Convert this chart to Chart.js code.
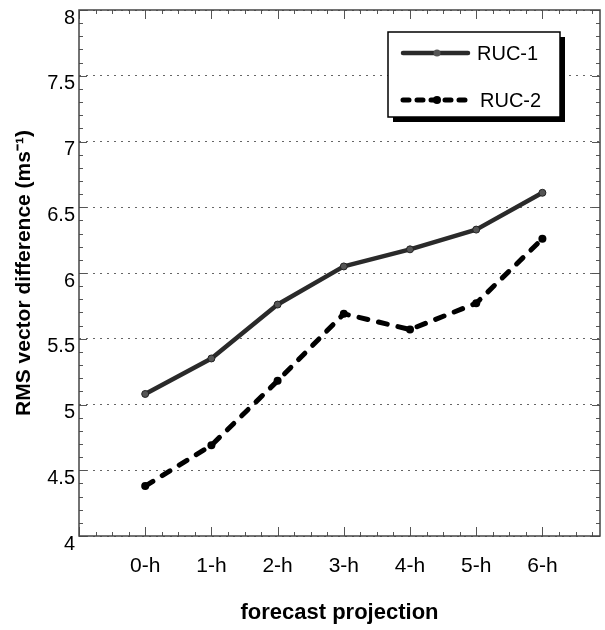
<!DOCTYPE html>
<html>
<head>
<meta charset="utf-8">
<script src="https://cdn.jsdelivr.net/npm/chart.js@4.4.1/dist/chart.umd.min.js"></script>
<style>
html,body{margin:0;padding:0;background:#fff;}
#wrap{width:605px;height:630px;}
</style>
</head>
<body>
<div id="wrap"><canvas id="c" width="605" height="630"></canvas></div>
<script>
const categories = ['0-h','1-h','2-h','3-h','4-h','5-h','6-h'];
const ruc1 = [5.08, 5.35, 5.76, 6.05, 6.18, 6.33, 6.61];
const ruc2 = [4.38, 4.69, 5.18, 5.69, 5.57, 5.77, 6.26];
const seriesNames = ['RUC-1', 'RUC-2'];
const yTickValues = [4, 4.5, 5, 5.5, 6, 6.5, 7, 7.5, 8];
const xTitle = 'forecast projection';
const yTitle = 'RMS vector difference (ms\u207B\u00B9)';

const FONT = '"Liberation Sans", Arial, Helvetica, sans-serif';

const framePlugin = {
  id: 'frameTicks',
  beforeDatasetsDraw(chart) {
    const {ctx, chartArea: a, scales: {x, y}} = chart;
    ctx.save();
    ctx.strokeStyle = '#555';
    ctx.lineWidth = 1;
    ctx.beginPath();
    for (let i = 0; i <= 40; i++) {
      const v = 4 + i * 0.1;
      const py = Math.round(y.getPixelForValue(v)) + 0.5;
      const len = (i % 5 === 0) ? 8 : 4;
      ctx.moveTo(a.left, py); ctx.lineTo(a.left + len, py);
      ctx.moveTo(a.right, py); ctx.lineTo(a.right - len, py);
    }
    for (let k = 0; ; k++) {
      const v = -1 + k * 0.25;
      if (v > x.max + 1e-6) break;
      const px = Math.round(x.getPixelForValue(v)) + 0.5;
      const major = (k % 4 === 0);
      const len = major ? 9 : 4;
      ctx.moveTo(px, a.bottom); ctx.lineTo(px, a.bottom - len);
      ctx.moveTo(px, a.top); ctx.lineTo(px, a.top + len);
    }
    ctx.stroke();
    ctx.lineWidth = 1.5;
    ctx.strokeStyle = '#444';
    ctx.strokeRect(a.left, a.top, a.right - a.left, a.bottom - a.top);
    ctx.restore();
  }
};

const legendPlugin = {
  id: 'boxLegend',
  afterDraw(chart) {
    const ctx = chart.ctx;
    const bx = 388, by = 32, bw = 172, bh = 85;
    ctx.save();
    ctx.fillStyle = '#000';
    ctx.fillRect(bx + 5, by + 5, bw, bh);
    ctx.fillStyle = '#fff';
    ctx.fillRect(bx, by, bw, bh);
    ctx.strokeStyle = '#000';
    ctx.lineWidth = 1.5;
    ctx.strokeRect(bx, by, bw, bh);
    chart.data.datasets.forEach((ds, i) => {
      const ly = by + 21 + i * 47;
      ctx.setLineDash(i === 1 ? [6, 8] : []);
      ctx.lineCap = ds.borderCapStyle || 'butt';
      ctx.strokeStyle = ds.borderColor;
      ctx.lineWidth = ds.borderWidth;
      ctx.beginPath(); ctx.moveTo(403, ly); ctx.lineTo(468, ly); ctx.stroke();
      ctx.setLineDash([]);
      ctx.fillStyle = ds.pointBackgroundColor;
      ctx.beginPath(); ctx.arc(437, ly, ds.pointRadius, 0, Math.PI * 2); ctx.fill();
      ctx.fillStyle = '#000';
      ctx.font = '20px ' + FONT;
      ctx.textBaseline = 'middle';
      ctx.textAlign = 'left';
      ctx.fillText(ds.label, 477 + i * 3, ly + 1);
    });
    ctx.restore();
  }
};

new Chart(document.getElementById('c'), {
  type: 'line',
  data: {
    datasets: [
      {
        label: seriesNames[0],
        data: ruc1.map((v, i) => ({x: i, y: v})),
        borderColor: '#2a2a2a',
        borderWidth: 4.5,
        pointRadius: 3.5,
        pointBackgroundColor: '#555',
        pointBorderColor: '#222',
        pointBorderWidth: 1,
        borderCapStyle: 'round',
        borderJoinStyle: 'round',
        tension: 0
      },
      {
        label: seriesNames[1],
        data: ruc2.map((v, i) => ({x: i, y: v})),
        borderColor: '#000',
        borderWidth: 5,
        borderDash: [9, 11],
        borderCapStyle: 'round',
        pointRadius: 4,
        pointBackgroundColor: '#000',
        pointBorderColor: '#000',
        pointBorderWidth: 0,
        tension: 0
      }
    ]
  },
  options: {
    responsive: false,
    devicePixelRatio: 1,
    animation: false,
    layout: {padding: {top: 10, right: 4, bottom: 0, left: 0}},
    plugins: {legend: {display: false}, tooltip: {enabled: false}},
    scales: {
      x: {
        type: 'linear',
        min: -1,
        max: 6.87,
        afterBuildTicks(s) {
          s.ticks = categories.map((c, i) => ({value: i}));
        },
        afterFit(s) { s.height = 94; s.paddingLeft = 0; s.paddingRight = 0; },
        grid: {display: false, drawTicks: false},
        border: {display: false},
        ticks: {
          autoSkip: false,
          maxRotation: 0,
          padding: 18,
          color: '#000',
          font: {family: FONT, size: 21},
          callback: (v) => categories[v] !== undefined ? categories[v] : ''
        },
        title: {
          display: true,
          text: xTitle,
          color: '#000',
          font: {family: FONT, size: 22, weight: 'bold'},
          padding: 4
        }
      },
      y: {
        min: 4,
        max: 8,
        afterBuildTicks(s) {
          s.ticks = yTickValues.map(v => ({value: v}));
        },
        afterFit(s) { s.width = 79; s.paddingTop = 0; s.paddingBottom = 0; },
        grid: {color: '#666', lineWidth: 1, drawTicks: false},
        border: {display: false, dash: [2, 5]},
        ticks: {
          padding: 4,
          labelOffset: 8,
          color: '#000',
          font: {family: FONT, size: 20},
          callback: (v) => String(v)
        },
        title: {
          display: true,
          text: yTitle,
          color: '#000',
          font: {family: FONT, size: 21, weight: 'bold'},
          padding: 12
        }
      }
    }
  },
  plugins: [framePlugin, legendPlugin]
});
</script>
</body>
</html>
